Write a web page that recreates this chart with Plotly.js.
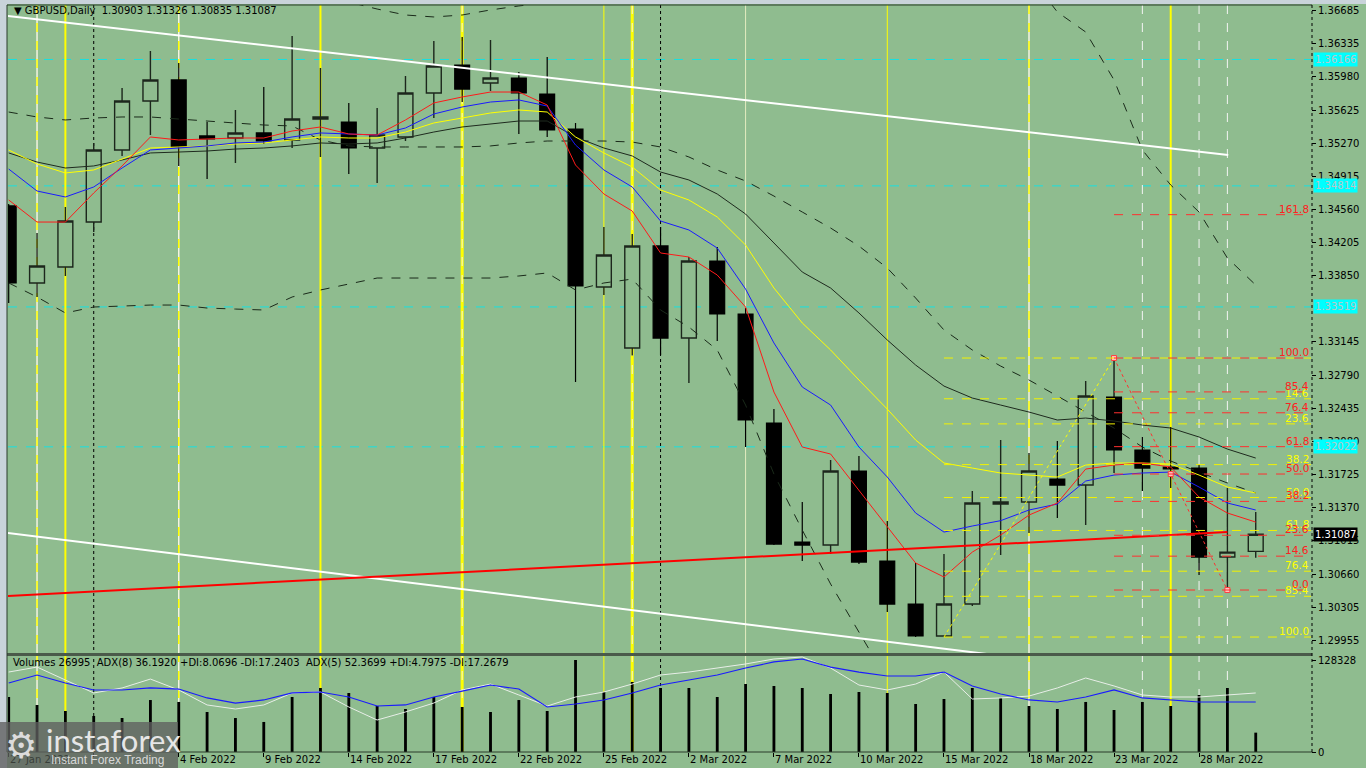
<!DOCTYPE html>
<html><head><meta charset="utf-8">
<script src="https://cdn.plot.ly/plotly-3.0.1.min.js"></script>
<style>html,body{margin:0;padding:0;background:#8fbc8f;overflow:hidden}#chart{width:1366px;height:768px}</style>
</head><body><div id="chart"></div>
<script>
// ---- data ----
const dates = ["27 Jan","28 Jan","31 Jan","1 Feb","2 Feb","3 Feb","4 Feb","7 Feb","8 Feb","9 Feb","10 Feb","11 Feb","14 Feb","15 Feb","16 Feb","17 Feb","18 Feb","21 Feb","22 Feb","23 Feb","24 Feb","25 Feb","28 Feb","1 Mar","2 Mar","3 Mar","4 Mar","7 Mar","8 Mar","9 Mar","10 Mar","11 Mar","14 Mar","15 Mar","16 Mar","17 Mar","18 Mar","21 Mar","22 Mar","23 Mar","24 Mar","25 Mar","28 Mar","29 Mar","30 Mar"];
const openP  = [1.34599,1.33775,1.33946,1.34427,1.35198,1.35722,1.35947,1.35348,1.35326,1.35380,1.35305,1.35529,1.35497,1.35219,1.35337,1.35808,1.36107,1.35915,1.35968,1.35797,1.35422,1.33732,1.33079,1.34171,1.33186,1.34010,1.33443,1.32277,1.31003,1.30971,1.31763,1.30800,1.30340,1.29998,1.30340,1.31410,1.31431,1.31678,1.31613,1.32555,1.31988,1.31806,1.31795,1.30843,1.30903];
const highP  = [1.34620,1.34310,1.34588,1.35273,1.35861,1.36257,1.36129,1.35497,1.35626,1.35872,1.36418,1.36075,1.35701,1.35647,1.35990,1.36364,1.36407,1.36375,1.36032,1.36193,1.35487,1.34374,1.34299,1.34374,1.34053,1.34160,1.33507,1.32426,1.31431,1.31881,1.31924,1.31228,1.30779,1.30875,1.31549,1.32095,1.31956,1.32084,1.32726,1.32972,1.32127,1.32234,1.31827,1.31581,1.31326];
const lowP   = [1.33561,1.33625,1.33849,1.34320,1.35134,1.35358,1.35027,1.34887,1.35059,1.35262,1.35219,1.35123,1.34941,1.34845,1.35294,1.35540,1.35711,1.35829,1.35369,1.35337,1.32715,1.33646,1.33000,1.33004,1.32705,1.33154,1.32020,1.30971,1.30800,1.30875,1.30768,1.30254,1.29987,1.29990,1.30319,1.30864,1.31100,1.31260,1.31185,1.31742,1.31549,1.31581,1.30650,1.30490,1.30835];
const closeP = [1.33775,1.33957,1.34438,1.35198,1.35722,1.35947,1.35230,1.35316,1.35380,1.35294,1.35529,1.35551,1.35219,1.35358,1.35808,1.36097,1.35850,1.35968,1.35808,1.35412,1.33743,1.34074,1.34171,1.33186,1.34010,1.33443,1.32309,1.30982,1.30971,1.31763,1.30789,1.30340,1.29998,1.30340,1.31421,1.31431,1.31763,1.31613,1.32566,1.31988,1.31795,1.31785,1.30843,1.30896,1.31087];
const volumes = [76700,65600,57200,50200,47400,72500,69800,55800,47400,41900,76700,89300,82300,64200,60000,76700,62800,55800,72500,57200,128328,83700,97700,89300,89300,76700,94900,92100,89300,80900,83700,82300,67000,73900,89300,75300,64200,60000,69800,58600,69800,64200,79500,89300,26995];
const maRed    = [1.34663,1.34427,1.34427,1.34738,1.35027,1.35337,1.35305,1.35315,1.35326,1.35326,1.35401,1.35444,1.35369,1.35358,1.35519,1.35701,1.35765,1.35818,1.35818,1.35679,1.35037,1.34727,1.34545,1.34096,1.34053,1.33860,1.33518,1.32608,1.32020,1.31945,1.31560,1.31164,1.30779,1.30629,1.30896,1.31078,1.31292,1.31421,1.31784,1.31827,1.31849,1.31806,1.31485,1.31314,1.31217];
const maBlue   = [1.34994,1.34759,1.34695,1.34802,1.35005,1.35198,1.35219,1.35241,1.35273,1.35283,1.35337,1.35380,1.35369,1.35358,1.35433,1.35583,1.35658,1.35711,1.35733,1.35668,1.35251,1.34984,1.34802,1.34438,1.34342,1.34149,1.33710,1.33133,1.32662,1.32469,1.32020,1.31699,1.31314,1.31110,1.31175,1.31232,1.31346,1.31410,1.31656,1.31720,1.31742,1.31752,1.31592,1.31421,1.31346];
const maYellow = [1.35198,1.35048,1.34952,1.34984,1.35101,1.35219,1.35230,1.35241,1.35262,1.35273,1.35305,1.35337,1.35326,1.35326,1.35390,1.35487,1.35540,1.35594,1.35626,1.35604,1.35337,1.35166,1.35016,1.34770,1.34663,1.34481,1.34181,1.33721,1.33347,1.33058,1.32737,1.32426,1.32095,1.31849,1.31795,1.31742,1.31720,1.31699,1.31827,1.31849,1.31849,1.31838,1.31720,1.31592,1.31528];
const maBlack  = [1.35166,1.35069,1.35005,1.35027,1.35091,1.35166,1.35176,1.35187,1.35208,1.35219,1.35241,1.35273,1.35262,1.35273,1.35326,1.35390,1.35444,1.35476,1.35508,1.35508,1.35337,1.35219,1.35134,1.34962,1.34877,1.34727,1.34513,1.34203,1.33892,1.33721,1.33454,1.33165,1.32897,1.32672,1.32544,1.32469,1.32394,1.32309,1.32330,1.32298,1.32255,1.32223,1.32127,1.31998,1.31902];
const bandUpper = [1.35604,1.35551,1.35519,1.35540,1.35551,1.35551,1.35529,1.35508,1.35487,1.35465,1.35455,1.35305,1.35241,1.35230,1.35230,1.35230,1.35230,1.35241,1.35273,1.35294,1.35294,1.35294,1.35283,1.35230,1.35123,1.34984,1.34866,1.34705,1.34534,1.34363,1.34170,1.33935,1.33614,1.33272,1.33058,1.32886,1.32737,1.32565,1.32394,1.32223,1.32020,1.31870,1.31752,1.31635,1.31528];
const bandLower = [1.33775,1.33625,1.33454,1.33518,1.33528,1.33539,1.33539,1.33507,1.33496,1.33486,1.33625,1.33700,1.33764,1.33828,1.33828,1.33828,1.33828,1.33828,1.33850,1.33882,1.33700,1.33775,1.33817,1.33486,1.33304,1.33058,1.32469,1.31731,1.31132,1.30554,1.30040,1.29527,null,null,null,null,null,null,null,null,null,null,null,null,null];
const bandOuter = [null,null,null,null,null,null,null,null,null,null,null,1.36888,1.36781,1.36706,1.36642,1.36621,1.36642,1.36696,1.36739,1.36771,1.37017,null,null,null,null,null,null,null,null,null,null,null,null,null,null,null,1.37070,1.36674,1.36460,1.35947,1.35198,1.34823,1.34534,1.34042,1.33753];
const adxWhite = [83.3,88.5,75.0,61.5,66.7,76.0,64.6,49.0,44.8,49.0,61.5,62.5,46.9,33.3,41.7,51.0,64.6,70.8,59.4,47.9,57.3,62.5,70.8,80.2,83.3,87.5,91.7,96.9,99.0,87.5,69.8,64.6,70.8,83.3,55.2,56.3,58.3,66.7,77.1,68.8,59.4,57.3,57.3,59.4,61.5];
const adxBlue  = [71.9,80.2,71.9,64.6,64.6,66.7,65.6,56.3,51.0,54.2,61.5,62.5,57.3,47.9,49.0,57.3,63.5,69.8,65.6,46.9,50.0,54.2,61.5,69.8,75.0,80.2,87.5,93.8,96.9,88.5,83.3,79.2,79.2,83.3,68.8,60.4,54.2,52.1,57.3,64.6,56.3,54.2,52.1,52.1,52.1];
const priceTicks = [1.36685,1.36335,1.35980,1.35625,1.35270,1.34915,1.34560,1.34205,1.33850,1.33145,1.32790,1.32435,1.32080,1.31725,1.31370,1.31015,1.30660,1.30305,1.29955];
const volTicks = [0,128328];
const dateTickIdx = [0,3,6,9,12,15,18,21,24,27,30,33,36,39,42];
const dateTickLabels = ["27 Jan 2022","1 Feb 2022","4 Feb 2022","9 Feb 2022","14 Feb 2022","17 Feb 2022","22 Feb 2022","25 Feb 2022","2 Mar 2022","7 Mar 2022","10 Mar 2022","15 Mar 2022","18 Mar 2022","23 Mar 2022","28 Mar 2022"];
const hiddenUnderLogo = [3];
const levelLines = [1.36166,1.34814,1.33519,1.32022];
const fibRedLevels = [161.8,100.0,85.4,76.4,61.8,50.0,38.2,23.6,14.6,0.0];
const fibRed = {i0:39, top:1.32972, i1:43, bottom:1.30490};
const fibYellowLevels = [0.0,14.6,23.6,38.2,50.0,61.8,76.4,85.4,100.0];
const fibYellowLabelled = [14.6,23.6,38.2,50.0,61.8,76.4,85.4,100.0];
const fibYellow = {i0:33, bottom:1.29987, i1:39, top:1.32972};
const channelUpper = {i0:0, p0:1.36631, i1:43.03, p1:1.35144};
const channelLower = {i0:0, p0:1.31100, i1:40, p1:1.29600};
const redTrend = {i0:0, p0:1.30426, i1:43, p1:1.31110};
const lastQuote = {o:1.30903, h:1.31326, l:1.30835, c:1.31087};
const volumeNow = 26995;
const adxText = "ADX(8) 36.1920 +DI:8.0696 -DI:17.2403  ADX(5) 52.3699 +DI:4.7975 -DI:17.2679";
const vlines = [[1,'yw'],[2,'y2'],[3,'kd'],[6,'yw'],[11,'y2'],[16,'ywt'],[21,'y1'],[22,'ywt'],[23,'kd'],[26,'pale'],[31,'y1'],[36,'yw'],[40,'wd'],[41,'y2'],[42,'wd'],[43,'wd']];

// ---- build ----
const idx = dates.map((d,i)=>i);
const GREEN = '#8fbc8f';
const FONT = 'DejaVu Sans, Tahoma, sans-serif';
const traces = [];
traces.push({type:'candlestick', x:idx, open:openP, high:highP, low:lowP, close:closeP, xaxis:'x', yaxis:'y',
  increasing:{line:{color:'#1c261c', width:1.4}, fillcolor:GREEN},
  decreasing:{line:{color:'#000000', width:1.2}, fillcolor:'#000000'},
  whiskerwidth:0, hoverinfo:'skip'});
function line(y,color,dash,w){return {type:'scatter',mode:'lines',x:idx,y:y,xaxis:'x',yaxis:'y',line:{color:color,width:w||1,dash:dash||'solid'},hoverinfo:'skip',connectgaps:false};}
traces.push(line(bandUpper,'#1a2a1a','dash',1));
traces.push(line(bandLower,'#1a2a1a','dash',1));
traces.push(line(bandOuter,'#1a2a1a','dash',1));
traces.push(line(maBlack,'#1e2a1e','solid',1));
traces.push(line(maYellow,'#ffff00','solid',1));
traces.push(line(maBlue,'#1a1aff','solid',1));
traces.push(line(maRed,'#ff1a1a','solid',1));
traces.push({type:'bar', x:idx, y:volumes, xaxis:'x', yaxis:'y2', width:0.1, marker:{color:'#000000',line:{width:0}}, hoverinfo:'skip'});
traces.push({type:'scatter',mode:'lines',x:idx,y:adxWhite,xaxis:'x',yaxis:'y3',line:{color:'#e8eee8',width:1},hoverinfo:'skip'});
traces.push({type:'scatter',mode:'lines',x:idx,y:adxBlue,xaxis:'x',yaxis:'y3',line:{color:'#1a1aff',width:1.2},hoverinfo:'skip'});

// fib diagonals + anchors
const fibRedPrice = l => fibRed.bottom + (fibRed.top-fibRed.bottom)*l/100;
const fibYelPrice = l => fibYellow.top - (fibYellow.top-fibYellow.bottom)*l/100;
traces.push({type:'scatter',mode:'lines',x:[fibYellow.i0,fibYellow.i1],y:[fibYellow.bottom,fibYellow.top],line:{color:'#ffff00',width:1,dash:'dot'},hoverinfo:'skip'});
traces.push({type:'scatter',mode:'lines',x:[fibRed.i0,fibRed.i1],y:[fibRed.top,fibRed.bottom],line:{color:'#ff3030',width:1,dash:'dot'},hoverinfo:'skip'});
traces.push({type:'scatter',mode:'markers',x:[fibRed.i0,(fibRed.i0+fibRed.i1)/2,fibRed.i1],y:[fibRed.top,(fibRed.top+fibRed.bottom)/2,fibRed.bottom],marker:{symbol:'square',size:5,color:'#ffc0c0',line:{color:'#ff4040',width:1}},hoverinfo:'skip'});

const shapes = [];
const annotations = [];
// window strips
shapes.push({type:'rect',xref:'paper',yref:'paper',x0:-8/1303,x1:-1/1303,y0:-16/747,y1:5/747+1,fillcolor:'#c9d3da',line:{width:0},layer:'below'});
shapes.push({type:'rect',xref:'paper',yref:'paper',x0:-8/1303,x1:1+55/1303,y0:1+1/747,y1:1+5/747,fillcolor:'#c9d3da',line:{width:0},layer:'below'});
// cyan levels
levelLines.forEach(p=>shapes.push({type:'line',xref:'paper',yref:'y',x0:0,x1:1,y0:p,y1:p,line:{color:'#19e0e0',width:1,dash:'dash'},layer:'below'}));
// vertical lines
vlines.forEach(([i,s])=>{
  const base={type:'line',xref:'x',yref:'paper',x0:i,x1:i,y0:0,y1:1,layer:'below'};
  if(s==='yw'){shapes.push({...base,line:{color:'#f4f4e0',width:1.5}});shapes.push({...base,line:{color:'#ffff00',width:1.5,dash:'dash'}});}
  else if(s==='ywt'){shapes.push({...base,line:{color:'#ffff00',width:3}});shapes.push({...base,line:{color:'#f4f4d8',width:1,dash:'dash'}});}
  else if(s==='y2'){shapes.push({...base,line:{color:'#ffff00',width:2}});}
  else if(s==='y1'){shapes.push({...base,line:{color:'#ffff00',width:1}});}
  else if(s==='pale'){shapes.push({...base,line:{color:'#e4ecc0',width:1}});}
  else if(s==='kd'){shapes.push({...base,line:{color:'#000000',width:1,dash:'dot'}});}
  else if(s==='wd'){shapes.push({...base,line:{color:'#f4f4f4',width:1,dash:'dash'}});}
});
// channels
shapes.push({type:'line',xref:'x',yref:'y',x0:channelUpper.i0-0.03,x1:channelUpper.i1,y0:channelUpper.p0,y1:channelUpper.p1,line:{color:'#ffffff',width:2}});
shapes.push({type:'line',xref:'x',yref:'y',x0:channelLower.i0-0.03,x1:channelLower.i1,y0:channelLower.p0,y1:channelLower.p1,line:{color:'#ffffff',width:2}});
shapes.push({type:'line',xref:'x',yref:'y',x0:redTrend.i0-0.03,x1:redTrend.i1,y0:redTrend.p0,y1:redTrend.p1,line:{color:'#ff0000',width:2}});
// fib horizontal lines
fibYellowLevels.forEach(l=>{const p=fibYelPrice(l);shapes.push({type:'line',xref:'x',yref:'y',x0:fibYellow.i0,x1:45.95,y0:p,y1:p,line:{color:'#f2f200',width:1,dash:'dash'}});});
fibRedLevels.forEach(l=>{const p=fibRedPrice(l);shapes.push({type:'line',xref:'x',yref:'y',x0:fibRed.i0,x1:45.95,y0:p,y1:p,line:{color:'#ff3030',width:1,dash:'dash'}});});
fibYellowLabelled.forEach(l=>annotations.push({xref:'paper',yref:'y',x:1,y:fibYelPrice(l),xanchor:'right',yanchor:'bottom',yshift:-2,text:l.toFixed(1),showarrow:false,font:{family:FONT,size:10.5,color:'#ffff00'}}));
fibRedLevels.forEach(l=>annotations.push({xref:'paper',yref:'y',x:1,y:fibRedPrice(l),xanchor:'right',yanchor:'bottom',yshift:-2,text:l.toFixed(1),showarrow:false,font:{family:FONT,size:10.5,color:'#ff2020'}}));
// panel separator, borders
shapes.push({type:'rect',xref:'paper',yref:'paper',x0:-1/1303,x1:1+1/1303,y0:0.1285,y1:0.1325,fillcolor:'#4a5a4a',line:{width:0}});
shapes.push({type:'line',xref:'paper',yref:'paper',x0:-1/1303,x1:1+1/1303,y0:1,y1:1,line:{color:'#2a3a2a',width:1}});
shapes.push({type:'line',xref:'paper',yref:'paper',x0:-1/1303,x1:1+1/1303,y0:0,y1:0,line:{color:'#2a3a2a',width:1}});
shapes.push({type:'line',xref:'paper',yref:'paper',x0:-1/1303,x1:-1/1303,y0:0,y1:1,line:{color:'#2a3a2a',width:1}});
shapes.push({type:'line',xref:'paper',yref:'paper',x0:1+1/1303,x1:1+1/1303,y0:0,y1:1,line:{color:'#000000',width:1,dash:'dot'}});
// right-axis labels
levelLines.forEach(p=>annotations.push({xref:'paper',yref:'y',x:1,xshift:2,y:p,xanchor:'left',yanchor:'middle',text:p.toFixed(5),showarrow:false,bgcolor:'#00ffff',borderpad:1,font:{family:FONT,size:10,color:'#b8c8c8'}}));
annotations.push({xref:'paper',yref:'y',x:1,xshift:2,y:lastQuote.c,xanchor:'left',yanchor:'middle',text:lastQuote.c.toFixed(5),showarrow:false,bgcolor:'#000000',borderpad:1,font:{family:FONT,size:10,color:'#ffffff'}});
// headers
annotations.push({xref:'paper',yref:'paper',x:4/1303,y:1-6/747,xanchor:'left',yanchor:'middle',showarrow:false,text:'▼ GBPUSD,Daily  '+[lastQuote.o,lastQuote.h,lastQuote.l,lastQuote.c].map(v=>v.toFixed(5)).join(' '),font:{family:FONT,size:10,color:'#000000'}});
annotations.push({xref:'paper',yref:'paper',x:3/1303,y:90/747,xanchor:'left',yanchor:'middle',showarrow:false,text:'Volumes '+volumeNow+'  '+adxText,font:{family:FONT,size:10,color:'#000000'}});
// date labels (the one under the logo is covered in the reference)
dateTickIdx.forEach((i,k)=>{ if(hiddenUnderLogo.includes(i)) return;
  annotations.push({xref:'x',yref:'paper',x:i,xshift:-1,y:-8/747,xanchor:'left',yanchor:'middle',showarrow:false,text:dateTickLabels[k],opacity:(i<5?0.45:1),font:{family:FONT,size:10,color:'#000000'}});});
// logo
shapes.push({type:'rect',xref:'paper',yref:'paper',x0:-8/1303,x1:170/1303,y0:-16/747,y1:30/747,fillcolor:'rgba(95,95,95,0.78)',line:{width:0}});
annotations.push({xref:'paper',yref:'paper',x:-5/1303,y:7/747,xanchor:'left',yanchor:'middle',showarrow:false,text:'⚙',font:{family:'DejaVu Sans',size:36,color:'#dcdcdc'}});
annotations.push({xref:'paper',yref:'paper',x:36/1303,y:12/747,xanchor:'left',yanchor:'middle',showarrow:false,text:'instaforex',font:{family:'Lato, Open Sans, sans-serif',size:31,color:'#e6e6e6'}});
annotations.push({xref:'paper',yref:'paper',x:41/1303,y:-8/747,xanchor:'left',yanchor:'middle',showarrow:false,text:'Instant Forex Trading',font:{family:'Liberation Sans, sans-serif',size:12,color:'#d8d8d8'}});

const layout = {
  width:1366,height:768,margin:{l:8,r:55,t:5,b:16,pad:0},
  paper_bgcolor:GREEN, plot_bgcolor:GREEN, showlegend:false, boxgap:0.25,
  xaxis:{range:[-0.0247,45.95],anchor:'y2',showgrid:false,zeroline:false,showline:false,tickvals:dateTickIdx,showticklabels:false,ticks:'outside',ticklen:4,tickcolor:'#000',rangeslider:{visible:false},fixedrange:true},
  yaxis:{domain:[0.1325,1],range:[1.29816,1.36749],side:'right',anchor:'x',tickvals:priceTicks,ticktext:priceTicks.map(v=>v.toFixed(5)),ticks:'outside',ticklen:4,tickcolor:'#000',showgrid:false,zeroline:false,showline:false,tickfont:{family:FONT,size:10,color:'#000'}},
  yaxis2:{domain:[0,0.1285],range:[0,133900],side:'right',anchor:'x',tickvals:volTicks,ticktext:volTicks.map(String),ticks:'outside',ticklen:4,tickcolor:'#000',showgrid:false,zeroline:false,showline:false,tickfont:{family:FONT,size:10,color:'#000'}},
  yaxis3:{domain:[0,0.1285],range:[0,100],overlaying:'y2',anchor:'x',visible:false},
  shapes:shapes, annotations:annotations
};
Plotly.newPlot('chart',traces,layout,{staticPlot:true,displayModeBar:false});
</script></body></html>
